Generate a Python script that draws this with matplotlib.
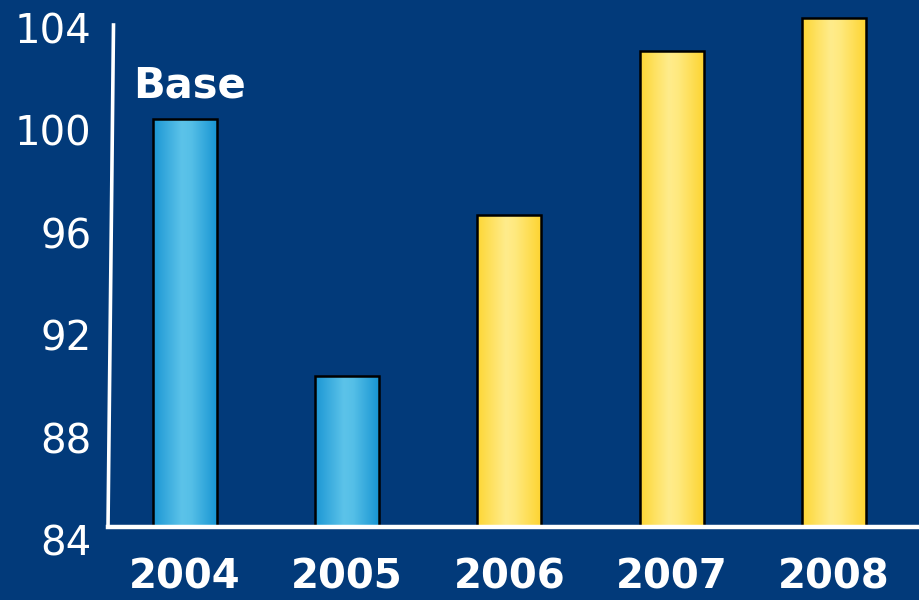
import numpy as np
import matplotlib
matplotlib.use("Agg")
import matplotlib.pyplot as plt
from matplotlib.colors import LinearSegmentedColormap
from matplotlib.lines import Line2D
from matplotlib.transforms import ScaledTranslation

years = ["2004", "2005", "2006", "2007", "2008"]
values = [99.95, 89.9, 96.2, 102.6, 103.9]
kinds = ["base", "base", "plan", "plan", "plan"]
yticks = [84, 88, 92, 96, 100, 104]

bg = "#023a7a"
blue_cmap = LinearSegmentedColormap.from_list(
    "blue_bar", [(0, "#1b96d4"), (0.45, "#5cc3e9"), (0.6, "#55bfe7"), (1, "#1895d3")])
gold_cmap = LinearSegmentedColormap.from_list(
    "gold_bar", [(0, "#fdd634"), (0.45, "#ffec8c"), (0.6, "#ffe97e"), (1, "#fdd431")])

fig = plt.figure(figsize=(9.2, 6), dpi=100)
fig.patch.set_facecolor(bg)
ax = fig.add_axes([108 / 920, 73 / 600, 812 / 920, 527 / 600])
ax.set_facecolor(bg)

x = np.arange(len(years))
bars = ax.bar(x, values, width=0.394, facecolor="none", edgecolor="black",
              linewidth=1.8, zorder=3)

# horizontal gradient fill clipped to each bar
grad = np.linspace(0, 1, 256).reshape(1, -1)
for bar, kind in zip(bars, kinds):
    x0 = bar.get_x()
    cmap = blue_cmap if kind == "base" else gold_cmap
    im = ax.imshow(grad, extent=[x0, x0 + bar.get_width(), 84, bar.get_height()],
                   aspect="auto", cmap=cmap, zorder=2, interpolation="bicubic")
    im.set_clip_path(bar)

ax.set_xlim(-0.474, 4.53)
ax.set_ylim(84, 104.59)

ax.text(x[0] + 0.03, values[0] + 1.3, "Base", color="white", fontsize=30,
        fontweight="bold", ha="center", va="center")

for s in ax.spines.values():
    s.set_visible(False)
ax.axhline(84, color="white", lw=3.2, clip_on=False, zorder=4)
fig.add_artist(Line2D([108 / 920, 113.5 / 920], [73 / 600, 575 / 600],
                      color="white", lw=2.6, transform=fig.transFigure))

ax.set_xticks(x)
ax.set_xticklabels(years, fontsize=29, fontweight="bold", color="white")
ax.set_yticks(yticks)
ax.set_yticklabels([str(t) for t in yticks], fontsize=29, color="white")
ax.tick_params(axis="x", length=0, pad=22)
ax.tick_params(axis="y", length=0, pad=12)
for lab in ax.get_yticklabels():
    lab.set_transform(lab.get_transform() + ScaledTranslation(0, -13 / 100, fig.dpi_scale_trans))

fig.savefig("out.png", dpi=100, facecolor=bg)
